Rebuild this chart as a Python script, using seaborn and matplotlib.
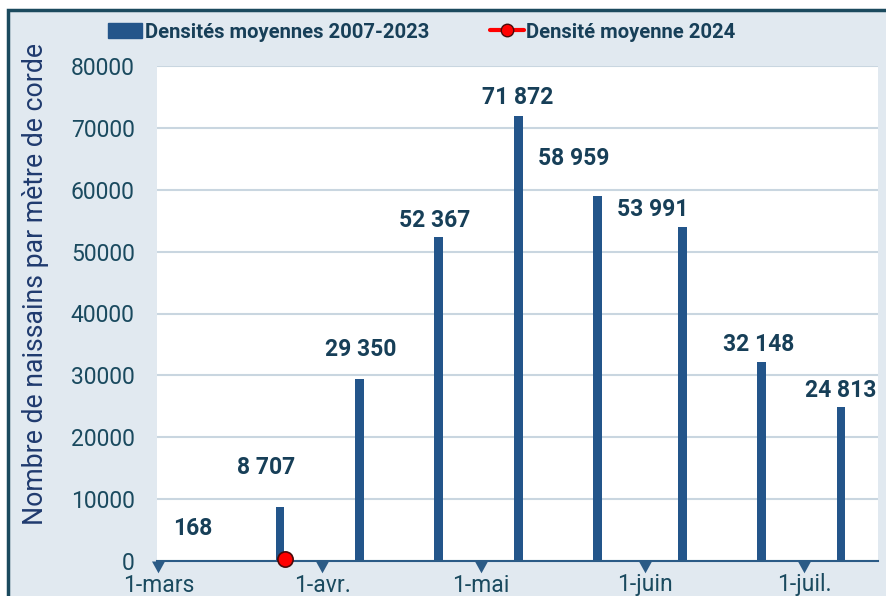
import pandas as pd
import numpy as np
import matplotlib
matplotlib.use("Agg")
import matplotlib.pyplot as plt
import matplotlib.dates as mdates
from matplotlib.patches import Patch, Rectangle
from matplotlib.lines import Line2D
from matplotlib.path import Path
from matplotlib.ticker import FixedLocator, FixedFormatter
import seaborn as sns

# Average densities 2007-2023 (one value per sampling date)
dates = ['2024-03-08', '2024-03-24', '2024-04-08', '2024-04-23', '2024-05-08',
         '2024-05-23', '2024-06-08', '2024-06-23', '2024-07-08']
densities = [168, 8707, 29350, 52367, 71872, 58959, 53991, 32148, 24813]

# 2024 average density (only one sample so far)
dates_2024 = ['2024-03-25']
densities_2024 = [300]

# x-axis ticks
tick_dates = ['2024-03-01', '2024-04-01', '2024-05-01', '2024-06-01', '2024-07-01']
tick_labels = ['1-mars', '1-avr.', '1-mai', '1-juin', '1-juil.']

# label offsets from bar top (pixels), style only
label_offsets = [(-3, 31), (-14, 40), (1, 30), (-4, 16), (0, 19),
                 (-24, 38), (-30, 17), (-3, 18), (0, 17)]

BAR = '#23558A'
TXT = '#173F58'
TICK_TXT = '#1A4A5F'
YLAB = '#1F3A6E'
BG = '#E1E9F0'
AXIS = '#2B5B86'

df = pd.DataFrame({'date': mdates.date2num(pd.to_datetime(dates)), 'density': densities})
df24 = pd.DataFrame({'date': mdates.date2num(pd.to_datetime(dates_2024)), 'density': densities_2024})
tick_pos = mdates.date2num(pd.to_datetime(tick_dates))

sns.set_theme(style='white')
plt.rcParams['font.family'] = ['Roboto', 'DejaVu Sans']

fig = plt.figure(figsize=(8.86, 5.96), dpi=100)
fig.patch.set_facecolor('white')
# framed light background
fig.add_artist(Rectangle((8 / 886, -0.1), 1.2, (586 / 596) + 0.1, transform=fig.transFigure,
                         facecolor=BG, edgecolor='#1B4A5E', linewidth=2.5, zorder=-10))

ax = fig.add_axes([157 / 886, 35 / 596, (878 - 157) / 886, (561 - 66) / 596])
ax.set_facecolor('white')

sns.barplot(data=df, x='date', y='density', native_scale=True, width=0.11,
            color=BAR, saturation=1, errorbar=None, linewidth=0, ax=ax, zorder=3)
sns.lineplot(data=df24, x='date', y='density', marker='o', color='red', markersize=11,
             markeredgecolor='#4A0A0A', markeredgewidth=1.2, linewidth=3, ax=ax, zorder=5,
             clip_on=False)

# data labels
for d, v, (dx, dy) in zip(df['date'], df['density'], label_offsets):
    ax.annotate(f'{v:,}'.replace(',', ' '), xy=(d, v), xytext=(dx, dy),
                textcoords='offset pixels', ha='center', va='center',
                fontsize=16.5, fontweight='bold', color=TXT, zorder=6)

ax.set_ylim(0, 80000)
ax.set_yticks(np.arange(0, 80001, 10000))
ax.set_xlim(mdates.date2num(pd.Timestamp('2024-03-01')) - 0.25,
            mdates.date2num(pd.Timestamp('2024-07-15')))
ax.xaxis.set_major_locator(FixedLocator(tick_pos))
ax.xaxis.set_major_formatter(FixedFormatter(tick_labels))

ax.grid(axis='y', color='#C9D6E0', linewidth=1.5, zorder=0)
ax.grid(axis='x', visible=False)
ax.set_axisbelow(True)
for s in ['top', 'right', 'left']:
    ax.spines[s].set_visible(False)
ax.spines['bottom'].set_color(AXIS)
ax.spines['bottom'].set_linewidth(1.5)
ax.spines['bottom'].set_zorder(4)

ax.tick_params(axis='y', length=0, pad=16, labelsize=16.5, labelcolor=TICK_TXT)
ax.tick_params(axis='x', length=0, pad=9, labelsize=16.5, labelcolor=TICK_TXT)

# downward triangle tick marks hanging below the axis line
tri = Path([(-0.55, 0), (0.55, 0), (0, -1), (-0.55, 0)],
           [Path.MOVETO, Path.LINETO, Path.LINETO, Path.CLOSEPOLY])
ax.plot(tick_pos, np.zeros(len(tick_pos)), linestyle='none', marker=tri, markersize=17,
        markerfacecolor=AXIS, markeredgewidth=0, clip_on=False, zorder=4)

ax.set_xlabel('')
ax.set_ylabel('Nombre de naissains par mètre de corde', fontsize=19.2, color=YLAB)
ax.yaxis.set_label_coords(-0.15, 0.56)

handles = [Patch(facecolor=BAR, edgecolor=BAR),
           Line2D([], [], color='red', linewidth=3, marker='o', markersize=9,
                  markerfacecolor='red', markeredgecolor='#4A0A0A')]
fig.legend(handles, ['Densités moyennes 2007-2023', 'Densité moyenne 2024'],
           loc='center', bbox_to_anchor=(0.476, 0.946), ncol=2, frameon=False,
           handlelength=1.7, handleheight=0.8, handletextpad=0.1, columnspacing=3,
           prop={'weight': 'bold', 'size': 14.6, 'family': ['Roboto', 'DejaVu Sans']},
           labelcolor=TXT)

fig.savefig('out.png', dpi=100)
